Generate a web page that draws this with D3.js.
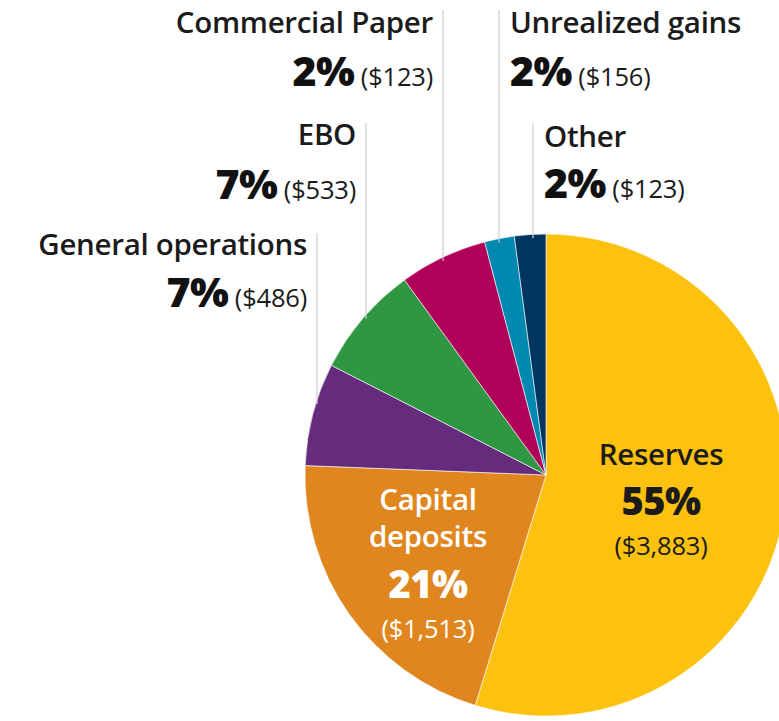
<!DOCTYPE html>
<html lang="en">
<head>
    <meta charset="UTF-8">
    <title>Fund allocation</title>
    <script src="https://cdn.jsdelivr.net/npm/d3@7"></script>
    <style>
        body {
            margin: 0;
            background: #fff;
        }
        svg text {
            font-family: "Open Sans", sans-serif;
        }
        .name { font-size: 29.5px; fill: #1b1b1b; letter-spacing: -0.3px; }
        .pct { font-size: 41px; font-weight: 800; fill: #111; letter-spacing: -0.5px; }
        .amt { font-size: 25.5px; fill: #1b1b1b; letter-spacing: -0.2px; }
        .pct.in { font-size: 38px; }
        .callout { stroke: #c9ced6; stroke-width: 1.2px; }
    </style>
</head>
<body>
    <svg width="779" height="721"></svg>
    <script>
        // slices clockwise from 12 o'clock
        const categories = ["Reserves", "Capital deposits", "General operations", "EBO", "Commercial Paper", "Unrealized gains", "Other"];
        // slice sizes (share of the circle, %)
        const shares = [54.8, 20.9, 6.9, 7.5, 5.9, 2.0, 2.1];
        const pctLabels = ["55%", "21%", "7%", "7%", "2%", "2%", "2%"];
        const amountLabels = ["($3,883)", "($1,513)", "($486)", "($533)", "($123)", "($156)", "($123)"];
        const colors = ["#fcc20f", "#e0861f", "#652c7d", "#2f9642", "#b0005a", "#0089b0", "#00365f"];

        const width = 779, height = 721;
        const cx = 546, cy = 475, r = 241;

        const svg = d3.select("svg");
        const g = svg.append("g").attr("transform", `translate(${cx},${cy})`);

        const pie = d3.pie().sort(null).value(d => d);
        const arcs = pie(shares);
        const arc = d3.arc().innerRadius(0).outerRadius(r);

        g.selectAll("path")
            .data(arcs)
            .enter().append("path")
            .attr("d", arc)
            .attr("fill", (d, i) => colors[i])
            .attr("stroke", "#fff")
            .attr("stroke-width", 0.6);

        // labels inside the two big slices
        const inside = [
            { i: 0, x: 661, lines: [["name", categories[0], 465], ["pct in", pctLabels[0], 515], ["amt", amountLabels[0], 555]], fill: "#1b1b1b" },
            { i: 1, x: 428, lines: [["name", "Capital", 510], ["name", "deposits", 547], ["pct in", pctLabels[1], 598], ["amt", amountLabels[1], 638]], fill: "#fff" }
        ];
        inside.forEach(b => {
            b.lines.forEach(([cls, txt, y]) => {
                svg.append("text")
                    .attr("class", cls)
                    .attr("x", b.x)
                    .attr("y", y)
                    .attr("text-anchor", "middle")
                    .style("fill", b.fill)
                    .style("font-weight", cls === "amt" ? null : (cls.startsWith("pct") ? "800" : "600"))
                    .text(txt);
            });
        });

        // callouts for the small slices: line x, line top, text side
        const callouts = [
            { i: 2, lx: 317, top: 233, side: "left", y1: 255, y2: 307 },
            { i: 3, lx: 366, top: 123, side: "left", y1: 145, y2: 199 },
            { i: 4, lx: 443, top: 10, side: "left", y1: 33, y2: 86 },
            { i: 5, lx: 499, top: 10, side: "right", y1: 33, y2: 86 },
            { i: 6, lx: 533, top: 123, side: "right", y1: 147, y2: 198 }
        ];

        callouts.forEach(c => {
            const dx = c.lx - cx;
            const yEdge = cy - Math.sqrt(r * r - dx * dx);
            svg.append("line")
                .attr("class", "callout")
                .attr("x1", c.lx).attr("x2", c.lx)
                .attr("y1", c.top).attr("y2", yEdge + 4);

            const left = c.side === "left";
            const tx = left ? c.lx - 10 : c.lx + 11;
            const anchor = left ? "end" : "start";

            svg.append("text")
                .attr("class", "name")
                .attr("x", tx).attr("y", c.y1)
                .attr("text-anchor", anchor)
                .style("font-weight", "600")
                .text(categories[c.i]);

            const t = svg.append("text")
                .attr("x", tx).attr("y", c.y2)
                .attr("text-anchor", anchor);
            t.append("tspan").attr("class", "pct").text(pctLabels[c.i]);
            t.append("tspan").attr("class", "amt").text(" " + amountLabels[c.i]);
        });
    </script>
</body>
</html>
